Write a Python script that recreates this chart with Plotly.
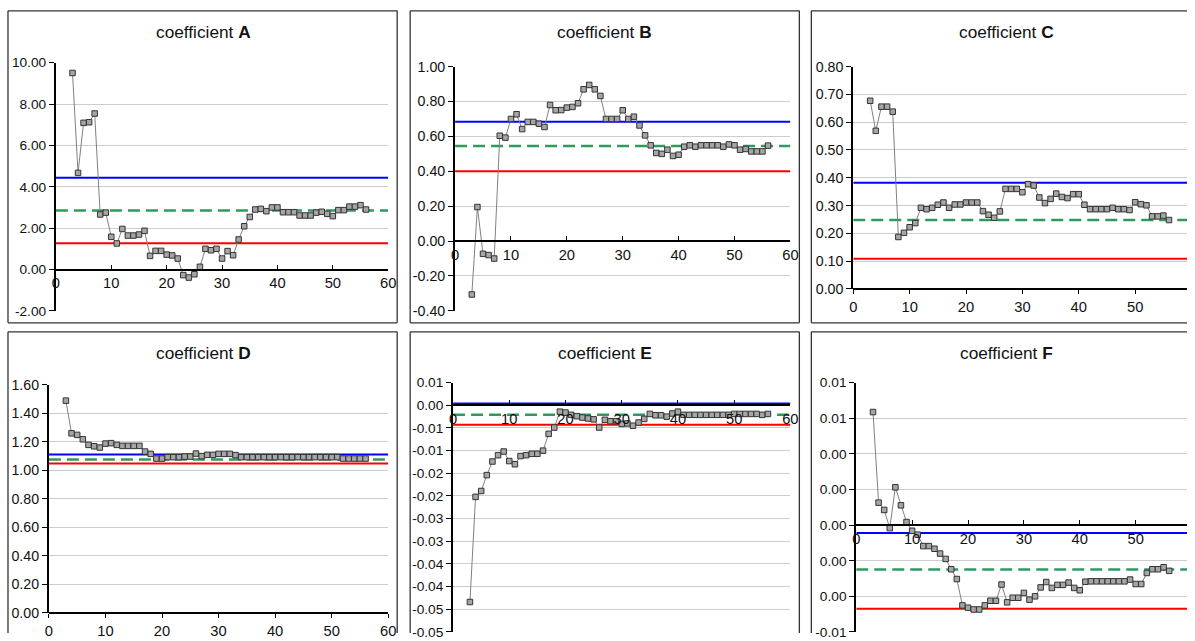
import plotly.graph_objects as go

# ---------------- data ----------------
steps = [3, 4, 5, 6, 7, 8, 9, 10, 11, 12, 13, 14, 15, 16, 17, 18, 19, 20, 21, 22,
         23, 24, 25, 26, 27, 28, 29, 30, 31, 32, 33, 34, 35, 36, 37, 38, 39, 40, 41, 42,
         43, 44, 45, 46, 47, 48, 49, 50, 51, 52, 53, 54, 55, 56]

coef_A = [9.50, 4.67, 7.09, 7.12, 7.54, 2.66, 2.75, 1.58, 1.26, 1.96, 1.64, 1.64, 1.69, 1.87,
          0.66, 0.90, 0.90, 0.72, 0.68, 0.53, -0.27, -0.39, -0.23, 0.13, 1.00, 0.93, 1.00, 0.53,
          0.89, 0.69, 1.45, 2.09, 2.54, 2.90, 2.93, 2.82, 3.00, 3.00, 2.77, 2.77, 2.77, 2.61,
          2.61, 2.61, 2.75, 2.79, 2.69, 2.58, 2.87, 2.87, 3.04, 3.04, 3.11, 2.90]

coef_B = [-0.306, 0.195, -0.073, -0.080, -0.100, 0.604, 0.593, 0.700, 0.727, 0.642, 0.683, 0.683,
          0.673, 0.654, 0.780, 0.750, 0.751, 0.765, 0.769, 0.790, 0.870, 0.895, 0.870, 0.832,
          0.700, 0.700, 0.700, 0.750, 0.700, 0.713, 0.663, 0.606, 0.549, 0.505, 0.500, 0.524,
          0.488, 0.495, 0.541, 0.549, 0.541, 0.549, 0.549, 0.549, 0.549, 0.541, 0.554, 0.549,
          0.524, 0.528, 0.514, 0.514, 0.514, 0.547]

coef_C = [0.677, 0.569, 0.656, 0.656, 0.638, 0.187, 0.202, 0.222, 0.237, 0.292, 0.287, 0.292,
          0.303, 0.311, 0.292, 0.304, 0.304, 0.311, 0.311, 0.311, 0.280, 0.267, 0.256, 0.279,
          0.360, 0.360, 0.360, 0.348, 0.377, 0.372, 0.329, 0.309, 0.324, 0.343, 0.331, 0.327,
          0.341, 0.341, 0.303, 0.287, 0.287, 0.287, 0.287, 0.292, 0.287, 0.287, 0.284, 0.312,
          0.305, 0.301, 0.261, 0.261, 0.264, 0.248]

coef_D = [1.488, 1.259, 1.248, 1.217, 1.178, 1.168, 1.159, 1.187, 1.190, 1.178, 1.171, 1.171,
          1.171, 1.171, 1.131, 1.115, 1.082, 1.082, 1.092, 1.092, 1.092, 1.096, 1.096, 1.117,
          1.099, 1.108, 1.108, 1.115, 1.115, 1.115, 1.106, 1.092, 1.092, 1.092, 1.092, 1.092,
          1.092, 1.092, 1.092, 1.092, 1.092, 1.092, 1.092, 1.092, 1.092, 1.092, 1.092, 1.092,
          1.092, 1.082, 1.082, 1.082, 1.082, 1.082]

coef_E = [-0.0434, -0.0202, -0.0189, -0.0154, -0.0124, -0.0110, -0.0102, -0.0123, -0.0130,
          -0.0112, -0.0110, -0.0107, -0.0107, -0.0100, -0.0063, -0.0049, -0.0014, -0.0016,
          -0.0021, -0.0024, -0.0027, -0.0029, -0.0031, -0.0049, -0.0032, -0.0035, -0.0035,
          -0.0041, -0.0040, -0.0045, -0.0038, -0.0030, -0.0019, -0.0022, -0.0022, -0.0025,
          -0.0018, -0.0014, -0.0021, -0.0021, -0.0021, -0.0021, -0.0021, -0.0021, -0.0021,
          -0.0021, -0.0021, -0.0019, -0.0019, -0.0019, -0.0019, -0.0019, -0.0021, -0.0019]

coef_F = [0.00635, 0.00126, 0.00085, -0.00017, 0.00212, 0.00111, 0.00017, -0.00032, -0.00054,
          -0.00118, -0.00118, -0.00133, -0.00160, -0.00190, -0.00248, -0.00303, -0.00451,
          -0.00464, -0.00474, -0.00474, -0.00451, -0.00425, -0.00425, -0.00334, -0.00434,
          -0.00408, -0.00408, -0.00381, -0.00419, -0.00400, -0.00350, -0.00320, -0.00353,
          -0.00336, -0.00336, -0.00323, -0.00353, -0.00366, -0.00318, -0.00316, -0.00316,
          -0.00316, -0.00316, -0.00316, -0.00316, -0.00316, -0.00306, -0.00331, -0.00331,
          -0.00269, -0.00248, -0.00248, -0.00237, -0.00257]

upper_limit = [4.43, 0.684, 0.382, 1.110, 0.0004, -0.00045]   # blue
mean_level = [2.85, 0.545, 0.248, 1.075, -0.0021, -0.0025]    # green dashed
lower_limit = [1.27, 0.400, 0.109, 1.047, -0.0043, -0.0047]   # red

panel_names = ["A", "B", "C", "D", "E", "F"]
x_full_range = [0, 60]
x_tickvals = [0, 10, 20, 30, 40, 50, 60]
x_ticktext = ["0", "10", "20", "30", "40", "50", "60"]

y_tickvals = [
    [-2, 0, 2, 4, 6, 8, 10],
    [-0.4, -0.2, 0.0, 0.2, 0.4, 0.6, 0.8, 1.0],
    [0.0, 0.1, 0.2, 0.3, 0.4, 0.5, 0.6, 0.7, 0.8],
    [0.0, 0.2, 0.4, 0.6, 0.8, 1.0, 1.2, 1.4, 1.6],
    [-0.05, -0.045, -0.04, -0.035, -0.03, -0.025, -0.02, -0.015, -0.01, -0.005, 0.0, 0.005],
    [-0.006, -0.004, -0.002, 0.0, 0.002, 0.004, 0.006, 0.008],
]
y_ticktext = [
    ["-2.00", "0.00", "2.00", "4.00", "6.00", "8.00", "10.00"],
    ["-0.40", "-0.20", "0.00", "0.20", "0.40", "0.60", "0.80", "1.00"],
    ["0.00", "0.10", "0.20", "0.30", "0.40", "0.50", "0.60", "0.70", "0.80"],
    ["0.00", "0.20", "0.40", "0.60", "0.80", "1.00", "1.20", "1.40", "1.60"],
    ["-0.05", "-0.05", "-0.04", "-0.04", "-0.03", "-0.03", "-0.02", "-0.02", "-0.01", "-0.01", "0.00", "0.01"],
    ["-0.01", "0.00", "0.00", "0.00", "0.00", "0.00", "0.01", "0.01"],
]
y_ranges = [[-2, 10], [-0.4, 1.0], [0, 0.8], [0, 1.6], [-0.05, 0.005], [-0.006, 0.008]]

series = [coef_A, coef_B, coef_C, coef_D, coef_E, coef_F]

# ---------------- layout geometry ----------------
W, H = 1195, 641
# the photographed page is drawn slightly inset; map wanted picture pixels to figure pixels
OFF_X, SC_X = 3.0, 0.992
OFF_Y, SC_Y = 7.2, 0.978
FS = 1.0 / ((SC_X + SC_Y) / 2)


def fx(x):
    return (x - OFF_X) / SC_X


def fy(y):
    return (y - OFF_Y) / SC_Y


# plot areas in picture pixels: left, right, top, bottom
plot_px = [
    (55, 388, 62, 311),
    (455, 791, 66, 311),
    (854, 1193, 66, 289),
    (48, 388, 385, 614),
    (453, 791, 383, 633),
    (857, 1193, 383, 633),
]
# panel frames: left, right, top, bottom (None = outside the picture)
frame_px = [
    (7, 397, 10, 323),
    (410, 800, 10, 323),
    (812, None, 10, 323),
    (7, 397, 332, None),
    (410, 800, 332, None),
    (812, None, 332, None),
]
title_cx_px = [203, 605, 1008, 203, 605, 1008]
title_y_px = [31, 31, 31, 353, 353, 353]
ytick_size = [13.5, 14, 14, 14, 13.5, 13.5]

FONT = "Liberation Sans, Arial, sans-serif"
fig = go.Figure()
layout = dict(
    width=W, height=H,
    margin=dict(l=0, r=0, t=0, b=0),
    paper_bgcolor="white", plot_bgcolor="white",
    showlegend=False,
    font=dict(family=FONT, size=14, color="#111111"),
)
shapes = []
annotations = []
FRAME = dict(color="#333333", width=1.3)

for i in range(6):
    n = "" if i == 0 else str(i + 1)
    l, r, t, b = plot_px[i]
    L, R, T, B = fx(l), fx(r), fy(t), fy(b)
    R_vis = min(R, W)
    x_rng = [x_full_range[0], x_full_range[0] + (x_full_range[1] - x_full_range[0]) * (R_vis - L) / (R - L)]
    xd = [L / W, R_vis / W]
    yd = [max(0.0, 1 - B / H), min(1.0, 1 - T / H)]
    ymin, ymax = y_ranges[i]
    xpos = yd[0] + (0 - ymin) / (ymax - ymin) * (yd[1] - yd[0])
    mid_axis = ymin < 0
    layout["xaxis" + n] = dict(
        domain=xd, range=x_rng, anchor="free", position=xpos,
        tickvals=x_tickvals, ticktext=x_ticktext,
        showgrid=False, zeroline=False,
        showline=True, linecolor="black", linewidth=2,
        ticks="inside" if mid_axis else "outside", ticklen=4, tickcolor="black", tickwidth=1,
        ticklabeloverflow="allow",
        tickfont=dict(family=FONT, size=14.5 * FS, color="#111111"),
    )
    layout["yaxis" + n] = dict(
        domain=yd, range=y_ranges[i], anchor="x" + n,
        tickvals=y_tickvals[i], ticktext=y_ticktext[i],
        showgrid=True, gridcolor="#cccccc", gridwidth=1, zeroline=False,
        showline=True, linecolor="black", linewidth=2,
        ticks="outside", ticklen=5, tickcolor="black", tickwidth=1,
        ticklabelstandoff=0, ticklabeloverflow="allow",
        tickfont=dict(family=FONT, size=ytick_size[i] * FS, color="#111111"),
    )
    xa, ya = "x" + n, "y" + n
    fig.add_trace(go.Scatter(x=x_full_range, y=[mean_level[i]] * 2, mode="lines", xaxis=xa, yaxis=ya,
                             line=dict(color="#2f9a5f", width=2.5, dash="12px,6px"), hoverinfo="skip"))
    fig.add_trace(go.Scatter(x=x_full_range, y=[upper_limit[i]] * 2, mode="lines", xaxis=xa, yaxis=ya,
                             line=dict(color="#0000ff", width=2), hoverinfo="skip"))
    fig.add_trace(go.Scatter(x=x_full_range, y=[lower_limit[i]] * 2, mode="lines", xaxis=xa, yaxis=ya,
                             line=dict(color="#ff0000", width=2), hoverinfo="skip"))
    fig.add_trace(go.Scatter(x=steps, y=series[i], mode="lines+markers", xaxis=xa, yaxis=ya,
                             line=dict(color="#808080", width=1),
                             marker=dict(symbol="square", size=5.5, color="#a6a6a6",
                                         line=dict(color="#333333", width=1))))
    # panel frame (only the sides that lie inside the picture)
    fl, fr, ft, fb = frame_px[i]
    x0p = fx(fl) / W
    ytp = 1 - fy(ft) / H
    xrp = fx(fr) / W if fr is not None else 1.0
    ybp = 1 - fy(fb) / H if fb is not None else 0.0
    sides = [(x0p, ytp, xrp, ytp), (x0p, ytp, x0p, ybp)]
    if fr is not None:
        sides.append((xrp, ytp, xrp, ybp))
    if fb is not None:
        sides.append((x0p, ybp, xrp, ybp))
    for (a0, b0, a1, b1) in sides:
        shapes.append(dict(type="line", xref="paper", yref="paper", x0=a0, y0=b0, x1=a1, y1=b1,
                           line=FRAME, layer="below"))
    annotations.append(dict(xref="paper", yref="paper", x=fx(title_cx_px[i]) / W,
                            y=1 - fy(title_y_px[i]) / H, xanchor="center", yanchor="middle", showarrow=False,
                            text="coefficient <b>" + panel_names[i] + "</b>",
                            font=dict(family=FONT, size=17 * FS, color="#111111")))

layout["shapes"] = shapes
layout["annotations"] = annotations
fig.update_layout(**layout)

page_css = ("var s=document.createElement('style');"
            "s.textContent='html,body{margin:0!important;padding:0!important;overflow:hidden!important;}"
            ".plotly-graph-div,.svg-container,.main-svg{overflow:hidden!important;}';"
            "document.head.appendChild(s);")
fig.write_html("out.html", config={"displayModeBar": False}, post_script=page_css)
